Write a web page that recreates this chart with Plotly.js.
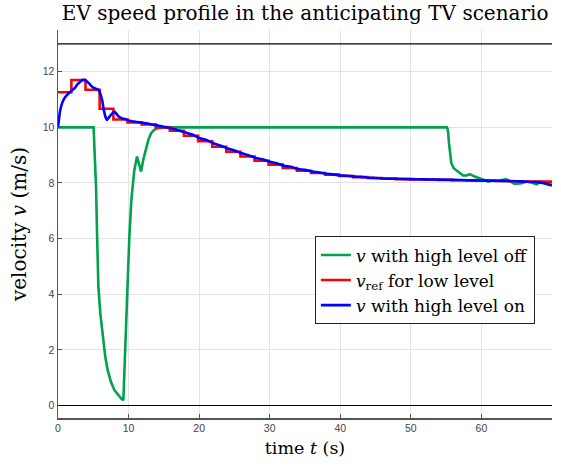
<!DOCTYPE html>
<html>
<head>
<meta charset="utf-8">
<script src="https://cdn.plot.ly/plotly-3.0.1.min.js"></script>
<style>html,body{margin:0;padding:0;background:#fff;}#plot{width:561px;height:466px;}</style>
</head>
<body>
<div id="plot"></div>
<script>
// Green: v with high level off
const tOff = [0, 5.05, 5.2, 5.39, 5.55, 5.72, 6.0, 6.33, 6.7, 7.04, 7.5, 7.99, 8.5, 8.7, 9.0, 9.26, 9.45, 9.64, 9.9, 10.11, 10.4, 10.82, 11.2, 11.45, 11.77, 12.1, 12.48, 12.8, 13.19, 13.6, 14.13, 14.6, 15.3, 55.1, 55.25, 55.4, 55.6, 55.74, 56.07, 56.68, 57.4, 57.9, 58.34, 59.05, 60.0, 60.95, 61.65, 62.6, 63.5, 64.2, 64.7, 65.7, 66.4, 67.1, 67.8, 68.5, 69.5, 70];
const vOff = [10, 10, 9.0, 7.87, 6.0, 4.27, 3.3, 2.47, 1.75, 1.27, 0.85, 0.55, 0.37, 0.31, 0.24, 0.19, 1.6, 3.07, 4.6, 6.07, 7.4, 8.47, 8.95, 8.75, 8.41, 8.85, 9.25, 9.55, 9.79, 9.9, 9.97, 9.99, 10, 10, 9.9, 9.43, 9.0, 8.71, 8.53, 8.41, 8.27, 8.27, 8.32, 8.23, 8.14, 8.05, 8.09, 8.09, 8.14, 8.05, 7.97, 7.99, 8.05, 8.02, 7.95, 8.05, 7.93, 7.92];

// Red: v_ref for low level (step starts)
const tRef = [0, 1.9, 3.9, 5.9, 7.85, 9.85, 11.85, 13.85, 15.85, 17.85, 19.85, 21.85, 23.85, 25.85, 27.85, 29.85, 31.85, 33.85, 35.85, 37.85, 39.85, 41.85, 43.85, 45.85, 47.85, 49.85, 51.85, 53.85, 55.85, 57.85, 59.85, 61.85, 63.85, 65.85, 67.85, 69.85, 70];
const vRef = [11.26, 11.70, 11.35, 10.67, 10.28, 10.18, 10.10, 10.00, 9.88, 9.70, 9.50, 9.30, 9.12, 8.95, 8.80, 8.66, 8.54, 8.44, 8.36, 8.30, 8.25, 8.21, 8.18, 8.16, 8.14, 8.13, 8.12, 8.11, 8.10, 8.09, 8.08, 8.07, 8.06, 8.05, 8.05, 8.04, 8.04];

// Blue: v with high level on
const tOn = [0, 0.3, 0.6, 1.0, 1.3, 1.7, 2.0, 2.4, 2.7, 3.1, 3.5, 3.8, 4.1, 4.4, 4.8, 5.1, 5.5, 5.8, 6.0, 6.25, 6.5, 6.7, 6.95, 7.2, 7.5, 8.0, 8.3, 8.6, 9.0, 9.5, 10.0, 11.0, 12.0, 13.0, 14.0, 15.0, 16.0, 17.0, 18.0, 19.0, 20.0, 21.0, 22.0, 23.0, 24.0, 25.0, 26.0, 27.0, 28.0, 29.0, 30.0, 31.0, 32.0, 33.0, 34.0, 35.0, 36.0, 37.0, 38.0, 39.0, 40.0, 41.0, 42.0, 43.0, 44.0, 45.0, 46.0, 48.0, 50.0, 52.0, 54.0, 56.0, 58.0, 60.0, 62.0, 64.0, 66.0, 68.0, 69.0, 70.0];
const vOn = [10, 10.6, 10.88, 11.08, 11.17, 11.27, 11.33, 11.42, 11.53, 11.63, 11.70, 11.70, 11.65, 11.58, 11.47, 11.42, 11.38, 11.33, 11.2, 10.98, 10.62, 10.4, 10.27, 10.35, 10.45, 10.56, 10.48, 10.39, 10.33, 10.3, 10.25, 10.2, 10.16, 10.12, 10.07, 10.02, 9.97, 9.9, 9.82, 9.74, 9.62, 9.55, 9.43, 9.35, 9.24, 9.17, 9.07, 9.0, 8.9, 8.85, 8.76, 8.71, 8.62, 8.58, 8.5, 8.47, 8.41, 8.38, 8.33, 8.31, 8.27, 8.26, 8.23, 8.22, 8.19, 8.18, 8.16, 8.15, 8.14, 8.13, 8.12, 8.11, 8.10, 8.09, 8.08, 8.07, 8.05, 8.03, 7.98, 7.92];

// Horizontal limit lines
const limits = [0, 13];

const xTicks = [0, 10, 20, 30, 40, 50, 60];
const yTicks = [0, 2, 4, 6, 8, 10, 12];

const serif = "'DejaVu Serif', serif";
const sans = "'Liberation Sans', Arial, sans-serif";

const traces = [
  {x: tOff, y: vOff, mode: 'lines', name: '<i>v</i> with high level off', line: {color: '#00a14f', width: 2.6}},
  {x: tRef, y: vRef, mode: 'lines', line: {shape: 'hv', color: '#ff0000', width: 2.6}, name: '<i>v</i><sub>ref</sub> for low level'},
  {x: tOn, y: vOn, mode: 'lines', name: '<i>v</i> with high level on', line: {color: '#0000ff', width: 2.6, shape: 'spline', smoothing: 0.6}}
];

const shapes = limits.map(v => ({type: 'line', xref: 'paper', x0: 0, x1: 1, yref: 'y', y0: v, y1: v, line: {color: '#000', width: 1.2}}));

const layout = {
  width: 561, height: 466,
  margin: {l: 58, r: 9, t: 30, b: 48},
  paper_bgcolor: '#fff', plot_bgcolor: '#fff',
  showlegend: true,
  title: {text: 'EV speed profile in the anticipating TV scenario', font: {family: serif, size: 20, color: '#000'}, x: 0.544, xanchor: 'center', y: 0.972, yanchor: 'middle'},
  xaxis: {
    range: [0, 70], tickvals: xTicks, ticktext: xTicks.map(String),
    showgrid: true, gridcolor: '#e3e3e3', gridwidth: 1,
    zeroline: false, showline: true, linecolor: '#555', linewidth: 1.5,
    ticks: 'inside', ticklen: 4, tickcolor: '#555',
    tickfont: {family: sans, size: 10.5, color: '#444'},
    title: {text: 'time <i>t</i> (s)', font: {family: serif, size: 17.5, color: '#000'}, standoff: 8}
  },
  yaxis: {
    range: [-0.45, 13.5], tickvals: yTicks, ticktext: yTicks.map(String),
    showgrid: true, gridcolor: '#e3e3e3', gridwidth: 1,
    zeroline: false, showline: true, linecolor: '#555', linewidth: 1.5,
    ticks: 'inside', ticklen: 4, tickcolor: '#555',
    tickfont: {family: sans, size: 10.5, color: '#444'},
    title: {text: 'velocity <i>v</i> (m/s)', font: {family: serif, size: 20, color: '#000'}, standoff: 10}
  },
  legend: {
    x: 0.52, y: 0.468, xanchor: 'left', yanchor: 'top',
    bgcolor: '#fff', bordercolor: '#222', borderwidth: 1,
    font: {family: serif, size: 17, color: '#000'},
    tracegroupgap: 0, itemwidth: 30
  },
  shapes: shapes
};

Plotly.newPlot('plot', traces, layout, {displayModeBar: false, staticPlot: true});
</script>
</body>
</html>
